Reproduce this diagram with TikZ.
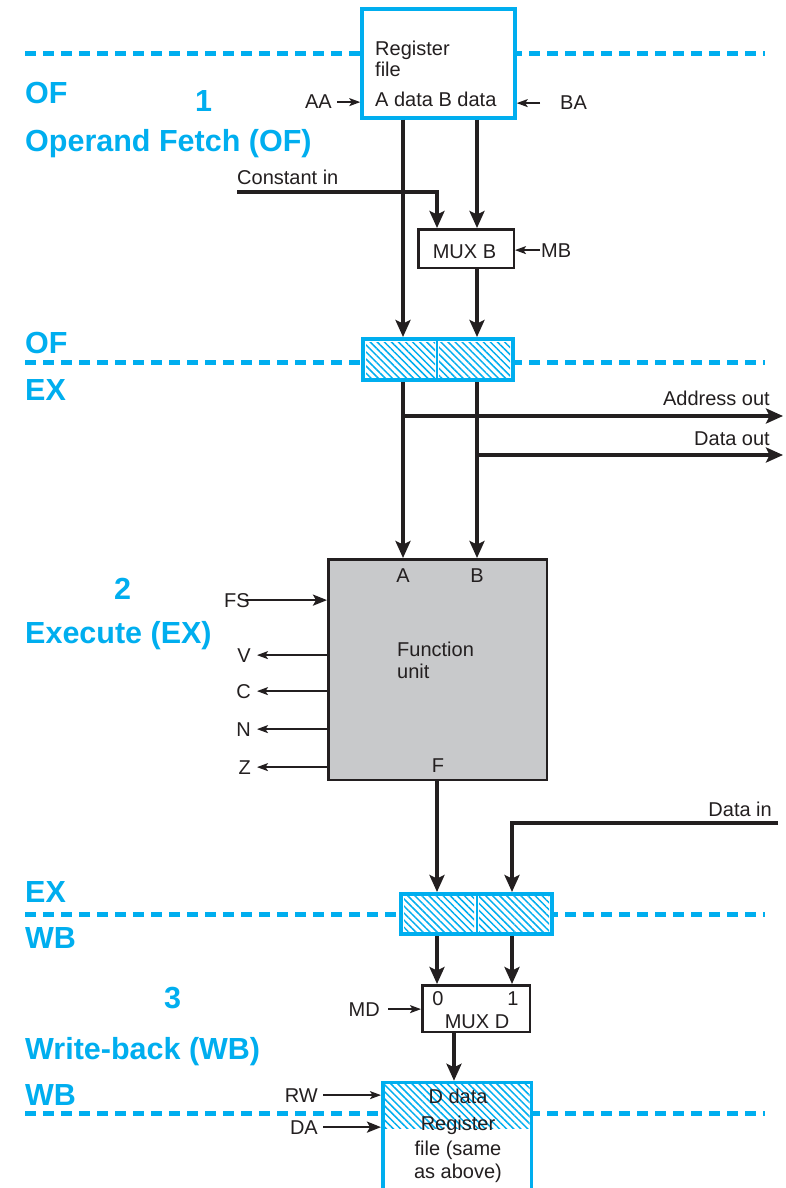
\documentclass[tikz,border=0pt]{standalone}
\usepackage{fontspec}
\setmainfont{Liberation Sans}
\usetikzlibrary{arrows.meta,patterns.meta,calc}
\definecolor{stageblue}{RGB}{0,174,239}
\definecolor{fugray}{RGB}{200,201,203}
\definecolor{ink}{RGB}{35,31,32}
\tikzset{
  lbl/.style={font=\fontsize{20}{22}\selectfont, text=ink, inner sep=0pt},
  stage/.style={font=\bfseries\fontsize{30.5}{33}\selectfont, text=stageblue, inner sep=0pt, anchor=base west},
  boundary/.style={stageblue, line width=5pt, dash pattern=on 11pt off 7pt},
  bus/.style={ink, line width=4.5pt, -{Stealth[length=17pt,width=15pt,inset=3.5pt]}},
  ctrl/.style={ink, line width=2.5pt, -{Stealth[length=14pt,width=11pt,inset=3pt]}},
  wire/.style={ink, line width=1.5pt, -{Stealth[length=11pt,width=8pt,inset=2.5pt]}},
  bluebox/.style={draw=stageblue, fill=white, inner sep=0pt},
  blackbox/.style={draw=ink, line width=2.5pt, inner sep=0pt},
  hatch/.style={pattern={Lines[angle=-45,distance=5pt,line width=1.5pt]}, pattern color=stageblue},
}
\begin{document}
\begin{tikzpicture}[x=1pt,y=-1pt]
\useasboundingbox (0,0) rectangle (785,1188);
\fill[white] (0,0) rectangle (785,1188);

% bus columns
\coordinate (colA) at (403,0);
\coordinate (colB) at (477,0);
\coordinate (colC) at (437,0);
\coordinate (colF) at (437,0);
\coordinate (colD) at (512,0);
\coordinate (colM) at (454,0);

% stage boundaries
\draw[boundary] (25,54) -- (765,54);
\draw[boundary] (25,362) -- (765,362);
\draw[boundary] (25,914) -- (765,914);
\draw[boundary] (25,1113) -- (765,1113);

% stage names
\node[stage] (of1) at (25,104) {OF};
\node[stage] (n1) at (195,112) {1};
\node[stage] (ofname) at (25,151) {Operand Fetch (OF)};
\node[stage] (of2) at (25,353) {OF};
\node[stage] (ex1) at (25,400) {EX};
\node[stage] (n2) at (114,599) {2};
\node[stage] (exname) at (25,643) {Execute (EX)};
\node[stage] (ex2) at (25,902) {EX};
\node[stage] (wb1) at (25,948) {WB};
\node[stage] (n3) at (164,1008) {3};
\node[stage] (wbname) at (25,1059) {Write-back (WB)};
\node[stage] (wb2) at (25,1105) {WB};

% register file (read side)
\node[bluebox, line width=3.5pt, minimum width=153pt, minimum height=109pt] (rf) at (438.5,63.5) {};
\node[lbl, anchor=base west] (rft1) at (375,56) {Register};
\node[lbl, anchor=base west] (rft2) at (375,77) {file};
\node[lbl, anchor=base west] (rft3) at (375,107) {A data B data};
\node[lbl, anchor=base east] (aa) at (332,109) {AA};
\node[lbl, anchor=base west] (ba) at (560,110) {BA};
\draw[wire, shorten <=5pt] (aa.east) -- (aa.east -| rf.west);
\draw[wire, shorten <=20pt] (ba.west) -- (ba.west -| rf.east);

% MUX B
\node[blackbox, fill=white, minimum width=95.5pt, minimum height=38.5pt] (muxb) at (466,248.5) {};
\node[lbl, anchor=base] (muxbt) at (464.5,258) {MUX B};
\node[lbl, anchor=base west] (mb) at (541,257) {MB};
\draw[wire, shorten <=1pt] (mb.west) -- (mb.west -| muxb.east);

% constant input
\node[lbl, anchor=base west] (cin) at (237,184) {Constant in};
\coordinate (cinstart) at (237,192);
\draw[bus] (cinstart) -| (colC |- muxb.north);

% OF/EX pipeline register
\node[bluebox, line width=4pt, minimum width=150pt, minimum height=41pt] (p1) at (438,359.5) {};
\fill[hatch] (366,342) rectangle (435,377);
\fill[hatch] (439,342) rectangle (510,377);
\draw[stageblue, line width=2pt] (437,339) -- (437,380);

% operand buses
\draw[bus] (rf.south -| colA) -- (p1.north -| colA);
\draw[bus] (rf.south -| colB) -- (muxb.north -| colB);
\draw[bus] (muxb.south -| colB) -- (p1.north -| colB);

% function unit
\node[blackbox, fill=fugray, minimum width=218.5pt, minimum height=220.5pt] (fu) at (437.5,669.5) {};
\node[lbl, anchor=base] (fua) at (403,582) {A};
\node[lbl, anchor=base] (fub) at (477,582) {B};
\node[lbl, anchor=base west] (fut1) at (397,656) {Function};
\node[lbl, anchor=base west] (fut2) at (397,678) {unit};
\node[lbl, anchor=base] (fuf) at (438,772) {F};

\draw[bus] (p1.south -| colA) -- (fu.north -| colA);
\draw[bus] (p1.south -| colB) -- (fu.north -| colB);

% memory outputs
\coordinate (addrend) at (783,416);
\coordinate (dataend) at (783,455);
\draw[bus] (colA |- addrend) ++(-2,0) -- (addrend);
\draw[bus] (colB |- dataend) ++(-2,0) -- (dataend);
\node[lbl, anchor=base east] (addrt) at (770,405) {Address out};
\node[lbl, anchor=base east] (datat) at (770,445) {Data out};

% function select and status bits
\node[lbl, anchor=base west] (fs) at (224,607) {FS};
\draw[ctrl, shorten <=-5pt] (fs.east) -- (fs.east -| fu.west);
\node[lbl, anchor=base east] (v) at (251,662) {V};
\node[lbl, anchor=base east] (c) at (251,698) {C};
\node[lbl, anchor=base east] (n) at (251,736) {N};
\node[lbl, anchor=base east] (z) at (251,774) {Z};
\foreach \s in {v,c,n,z}
  \draw[wire, shorten >=6pt] (fu.west |- \s.east) -- (\s.east);

% EX/WB pipeline register
\node[bluebox, line width=4pt, minimum width=151pt, minimum height=40pt] (p2) at (476.5,914) {};
\fill[hatch] (404,896) rectangle (474,932);
\fill[hatch] (479,896) rectangle (549,932);
\draw[stageblue, line width=2pt] (477,894) -- (477,934);

\draw[bus] (fu.south -| colF) -- (p2.north -| colF);
\coordinate (dinstart) at (778,823);
\draw[bus] (dinstart) -| (colD |- p2.north);
\node[lbl, anchor=base east] (dint) at (772,816) {Data in};

% MUX D
\node[blackbox, fill=white, minimum width=107.5pt, minimum height=46.5pt] (muxd) at (476,1008.5) {};
\node[lbl, anchor=base] (md0) at (438,1005) {0};
\node[lbl, anchor=base] (md1) at (513,1005) {1};
\node[lbl, anchor=base] (muxdt) at (477,1028) {MUX D};
\node[lbl, anchor=base east] (md) at (380,1016) {MD};
\draw[wire, shorten <=8pt] (md.east) -- (md.east -| muxd.west);

\draw[bus] (p2.south -| colF) -- (muxd.north -| colF);
\draw[bus] (p2.south -| colD) -- (muxd.north -| colD);

% register file (write side)
\node[bluebox, line width=3.5pt, minimum width=148.5pt, minimum height=117pt] (rfb) at (457,1141) {};
\fill[hatch] (384.5,1084.5) rectangle (529.5,1128);
\node[lbl, anchor=base] (rfbt1) at (458,1103) {D data};
\node[lbl, anchor=base] (rfbt2) at (458,1130) {Register};
\node[lbl, anchor=base] (rfbt3) at (458,1155) {file (same};
\node[lbl, anchor=base] (rfbt4) at (458,1178) {as above)};
\draw[bus] (muxd.south -| colM) -- (rfb.north -| colM);

\node[lbl, anchor=base east] (rw) at (318,1102) {RW};
\node[lbl, anchor=base east] (da) at (318,1134) {DA};
\draw[wire, shorten <=5pt] (rw.east) -- (rw.east -| rfb.west);
\draw[ctrl, shorten <=5pt] (da.east) -- (da.east -| rfb.west);
\end{tikzpicture}
\end{document}
